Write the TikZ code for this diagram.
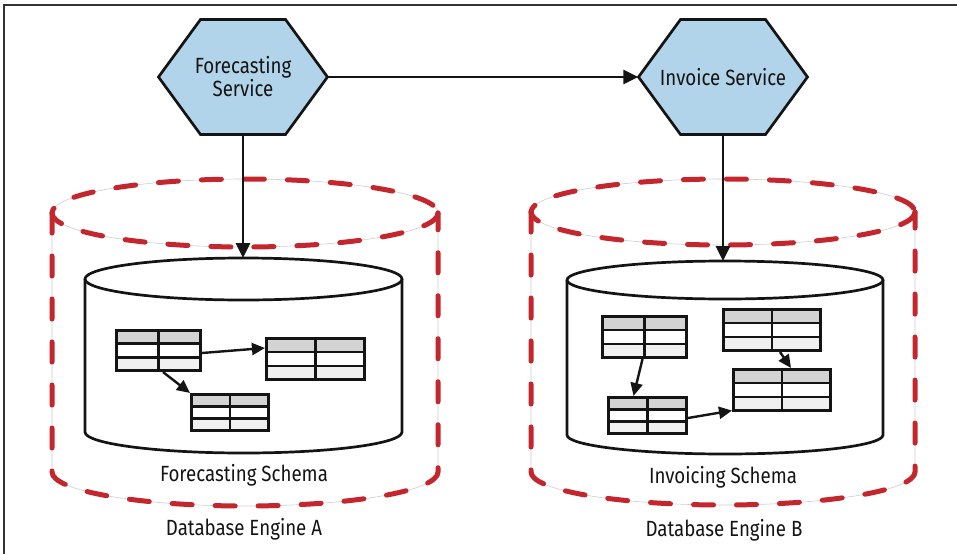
\documentclass[tikz,border=0pt]{standalone}
\usepackage{fontspec}
\setmainfont{Fira Sans}[FakeStretch=0.85]
\usetikzlibrary{arrows.meta,calc}
\definecolor{HexBlue}{HTML}{B1D4EA}
\definecolor{DashRed}{HTML}{C4262E}
\definecolor{GuideGray}{HTML}{CCCCCC}
\definecolor{HeadGray}{HTML}{D3D3D3}
\definecolor{RowGray}{HTML}{F0F0F0}
\definecolor{Ink}{HTML}{141414}
\definecolor{FrameGray}{HTML}{333333}

\begin{document}
\begin{tikzpicture}[x=1pt, y=-1pt,
  svc/.style={minimum width=169, minimum height=115, inner sep=0pt, align=center,
              text=Ink, font=\fontsize{22}{23}\selectfont},
  hexline/.style={draw=Ink, fill=HexBlue, line width=2.7, line join=miter},
  engine/.style={draw=DashRed, line width=5, line cap=round, dash pattern=on 20 off 23,
                 preaction={draw=GuideGray, line width=0.6, solid}},
  schema/.style={draw=Ink, fill=white, line width=2.7},
  tbl/.style={draw=Ink, line width=2.6, inner sep=0pt, fill=white,
    path picture={
      \fill[HeadGray] (path picture bounding box.north west) rectangle
        ($(path picture bounding box.north east)!1/3!(path picture bounding box.south east)$);
      \fill[RowGray] ($(path picture bounding box.north west)!2/3!(path picture bounding box.south west)$)
        rectangle (path picture bounding box.south east);
      \draw[Ink, line width=2.6]
        ($(path picture bounding box.north west)!1/3!(path picture bounding box.south west)$) --
        ($(path picture bounding box.north east)!1/3!(path picture bounding box.south east)$)
        ($(path picture bounding box.north west)!2/3!(path picture bounding box.south west)$) --
        ($(path picture bounding box.north east)!2/3!(path picture bounding box.south east)$)
        (path picture bounding box.north) -- (path picture bounding box.south);}},
  flow/.style={-{Triangle[length=15, width=14]}, line width=2.8, draw=Ink},
  link/.style={-{Triangle[length=13, width=12]}, line width=2.4, draw=Ink},
  lbl/.style={anchor=base, text=Ink, font=\fontsize{22}{23}\selectfont}]

  \useasboundingbox (0,0) rectangle (957,554);
  \draw[FrameGray, line width=1.5] (4,554) -- (4,5) -- (957,5);

  % database engines (dashed drums)
  \foreach \cx/\rx/\yt/\yb/\ry in {245/193/213/472/34, 723/192/212/472/33} {
    \draw[engine] (\cx,\yt) ellipse [x radius=\rx, y radius=\ry];
    \draw[engine] (\cx-\rx,\yt) -- (\cx-\rx,\yb)
      arc [start angle=180, end angle=0, x radius=\rx, y radius=\ry] -- (\cx+\rx,\yt);
  }

  % schemas
  \foreach \cx/\rx/\yt/\yb/\ry in {243.5/158.5/279/432/21, 725/158/280/435/19} {
    \draw[schema] (\cx-\rx,\yt) -- (\cx-\rx,\yb)
      arc [start angle=180, end angle=0, x radius=\rx, y radius=\ry] -- (\cx+\rx,\yt);
    \draw[schema] (\cx,\yt) ellipse [x radius=\rx, y radius=\ry];
  }
  \coordinate (fcdb) at (243.5,258);
  \coordinate (invdb) at (725,261);

  % services
  \foreach \n/\pos/\txt in {fc/{243,77}/{Forecasting\\Service}, inv/{723,77}/{Invoice Service}} {
    \draw[hexline] ($(\pos)+(-84.5,0)$) -- ++(42,-57.5) -- ++(85,0) -- ++(42,57.5)
      -- ++(-42,57.5) -- ++(-85,0) -- cycle;
    \node[svc] (\n) at (\pos) {\txt};
  }

  % tables
  \foreach \n/\x/\y/\w/\h in {fA1/158.5/350.5/84.5/40.5, fA2/315.5/359/98.5/41.5,
      fA3/230/412.5/77.5/36.5, iB1/644.5/337/84.5/41.5, iB2/772/330/97.5/41.5,
      iB3/647.5/415.5/78.5/36.5, iB4/782/390/97.5/41.5}
    \node[tbl, minimum width=\w, minimum height=\h] (\n) at (\x,\y) {};

  \draw[link] ($(fA1.east)+(0,2.5)$) -- ($(fA2.west)+(0,-11)$);
  \draw[link] ($(fA1.south)+(4.5,0)$) -- (fA3.north west);
  \draw[link] ($(iB1.south)+(-2,0)$) -- ($(iB3.north)+(-14,0)$);
  \draw[link] ($(iB3.east)+(0,2.5)$) -- ($(iB4.south west)+(0,-1.5)$);
  \draw[link] ($(iB2.south)+(8,0)$) -- ($(iB4.north)+(9,0)$);

  % connectors
  \draw[flow] (fc.east) -- (inv.west);
  \draw[flow] (fc.south) -- (fc.south |- fcdb);
  \draw[flow] (inv.south) -- (inv.south |- invdb);

  % labels
  \node[lbl] (fcschema) at (244,481) {Forecasting Schema};
  \node[lbl] (engA) at (244,535) {Database Engine A};
  \node[lbl] (invschema) at (723,483) {Invoicing Schema};
  \node[lbl] (engB) at (724,536) {Database Engine B};
\end{tikzpicture}
\end{document}
